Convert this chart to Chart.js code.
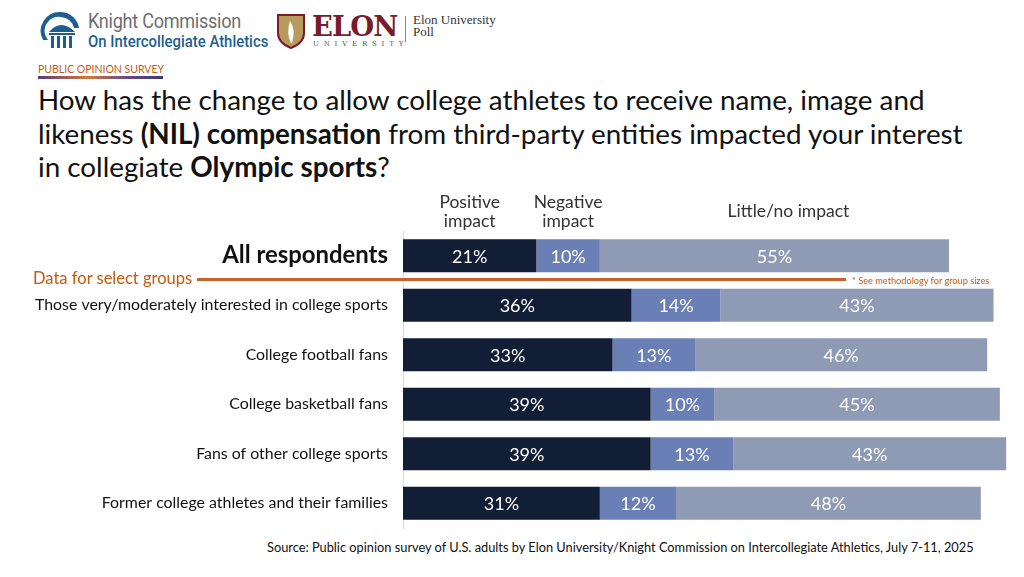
<!DOCTYPE html>
<html lang="en">
<head>
  <meta charset="UTF-8">
  <title>NIL and interest in Olympic sports</title>
  <script src="https://cdn.jsdelivr.net/npm/chart.js"></script>
  <style>
    * { margin:0; padding:0; box-sizing:border-box; }
    html,body { width:1024px; height:577px; overflow:hidden; background:#fff; font-family:'Lato',sans-serif; }
    #page { position:relative; width:1024px; height:577px; }
    .abs { position:absolute; }

    /* logos */
    #kc-name1 { left:88px; top:9px; font-family:'Roboto',sans-serif; font-size:21px; color:#6d6e70; letter-spacing:-0.3px; transform:scaleX(0.86); transform-origin:left; white-space:nowrap; }
    #kc-name2 { left:88px; top:32px; font-family:'Roboto',sans-serif; font-weight:500; font-size:16px; color:#1e5e8f; transform:scaleX(0.93); transform-origin:left; white-space:nowrap; }
    #elon-word { left:312px; top:10px; font-family:'DejaVu Serif',serif; font-weight:bold; font-size:28px; color:#7a1b2b; letter-spacing:-1px; transform:scaleX(0.98); transform-origin:left; }
    #elon-uni { left:313px; top:40px; font-family:'DejaVu Serif',serif; font-size:7px; letter-spacing:4.8px; color:#555; }
    #elon-bar { left:405px; top:16px; width:1px; height:26px; background:#888; }
    #elon-poll { left:413px; top:14px; font-family:'Liberation Serif',serif; font-size:13px; line-height:12px; color:#333; }

    #kicker { left:38px; top:63px; font-size:10.5px; color:#c55a11; }
    #kicker-bar { left:38px; top:76px; width:125px; height:3px; background:linear-gradient(90deg,#5a3a7a,#d27a3a 40%,#6a4a8a 70%,#3a3a7a); }
    #title { left:38px; top:83px; font-size:27.8px; line-height:33.5px; color:#111; white-space:nowrap; }

    #chart-wrap { left:0; top:190px; width:1024px; height:340px; }

    #divider-text { left:33px; top:268px; font-size:16.5px; color:#c55a11; }
    #divider { left:197px; top:278px; width:649px; height:3px; background:#c8612b; }
    #method { left:852px; top:275px; font-size:9.2px; color:#c55a11; }

    #source { left:267px; top:539px; font-size:12.8px; color:#111; white-space:nowrap; }
  </style>
</head>
<body>
  <div id="page">
    <!-- Knight Commission logo -->
    <svg class="abs" style="left:40px;top:10px" width="42" height="40" viewBox="0 0 42 40">
      <path d="M21 2 A19 19 0 0 0 3 30 L8 30 A14 14 0 0 1 21 7 A14 14 0 0 1 34 18 L39 18 A19 19 0 0 0 21 2 Z" fill="#1e5e8f"/>
      <path d="M9 22 Q21 8 35 22 Z" fill="#1e5e8f"/>
      <rect x="9" y="23" width="26" height="2" fill="#1e5e8f"/>
      <rect x="11" y="26" width="3" height="12" fill="#1e5e8f"/>
      <rect x="17" y="26" width="3" height="12" fill="#1e5e8f"/>
      <rect x="23" y="26" width="3" height="12" fill="#1e5e8f"/>
      <rect x="29" y="26" width="3" height="12" fill="#1e5e8f"/>
    </svg>
    <div id="kc-name1" class="abs">Knight Commission</div>
    <div id="kc-name2" class="abs">On Intercollegiate Athletics</div>

    <!-- Elon logo -->
    <svg class="abs" style="left:277px;top:13px" width="28" height="36" viewBox="0 0 28 36">
      <path d="M1 2 L27 2 L27 20 Q27 30 14 35 Q1 30 1 20 Z" fill="#b89a5e" stroke="#7a1b2b" stroke-width="2"/>
      <path d="M14 30 Q9 20 13 8 Q19 16 15 30 Z" fill="#fff"/>
    </svg>
    <div id="elon-word" class="abs">ELON</div>
    <div id="elon-uni" class="abs">UNIVERSITY</div>
    <div id="elon-bar" class="abs"></div>
    <div id="elon-poll" class="abs">Elon University<br>Poll</div>

    <div id="kicker" class="abs">PUBLIC OPINION SURVEY</div>
    <div id="kicker-bar" class="abs"></div>
    <div id="title" class="abs">How has the change to allow college athletes to receive name, image and<br>likeness <b>(NIL) compensation</b> from third-party entities impacted your interest<br>in collegiate <b>Olympic sports</b>?</div>

    <div id="chart-wrap" class="abs"><canvas id="chart" width="1024" height="340"></canvas></div>

    <div id="divider-text" class="abs">Data for select groups</div>
    <div id="divider" class="abs"></div>
    <div id="method" class="abs">* See methodology for group sizes</div>

    <div id="source" class="abs">Source: Public opinion survey of U.S. adults by Elon University/Knight Commission on Intercollegiate Athletics, July 7-11, 2025</div>
  </div>

  <script>
    // data
    const groups = [
      'All respondents',
      'Those very/moderately interested in college sports',
      'College football fans',
      'College basketball fans',
      'Fans of other college sports',
      'Former college athletes and their families'
    ];
    const seriesNames = ['Positive impact', 'Negative impact', 'Little/no impact'];
    const positive = [21, 36, 33, 39, 39, 31];
    const negative = [10, 14, 13, 10, 13, 12];
    const littleNo = [55, 43, 46, 45, 43, 48];
    const colors = ['#121e36', '#6a7fb5', '#8f9ab5'];

    // white % labels inside each segment
    const segmentLabels = {
      id: 'segmentLabels',
      afterDatasetsDraw(chart) {
        const ctx = chart.ctx;
        ctx.save();
        ctx.fillStyle = '#fff';
        ctx.font = '18px Lato';
        ctx.textAlign = 'center';
        ctx.textBaseline = 'middle';
        chart.data.datasets.forEach((ds, i) => {
          chart.getDatasetMeta(i).data.forEach((bar, j) => {
            ctx.fillText(ds.data[j] + '%', (bar.x + bar.base) / 2, bar.y + 1);
          });
        });
        ctx.restore();
      }
    };

    // column headers above the first bar
    const columnHeaders = {
      id: 'columnHeaders',
      afterDraw(chart) {
        const ctx = chart.ctx;
        const top = chart.chartArea.top;
        ctx.save();
        ctx.fillStyle = '#333';
        ctx.font = '17.5px Lato';
        ctx.textAlign = 'center';
        ctx.textBaseline = 'middle';
        chart.data.datasets.forEach((ds, i) => {
          const bar = chart.getDatasetMeta(i).data[0];
          const cx = (bar.x + bar.base) / 2;
          const words = ds.label.split(' ');
          if (i < 2) {
            ctx.fillText(words[0], cx, top - 29);
            ctx.fillText(words.slice(1).join(' '), cx, top - 10);
          } else {
            ctx.fillText(ds.label, cx + 14, top - 20);
          }
        });
        ctx.restore();
      }
    };

    new Chart(document.getElementById('chart'), {
      type: 'bar',
      data: {
        labels: groups,
        datasets: [
          { label: seriesNames[0], data: positive, backgroundColor: colors[0] },
          { label: seriesNames[1], data: negative, backgroundColor: colors[1] },
          { label: seriesNames[2], data: littleNo, backgroundColor: colors[2] }
        ]
      },
      options: {
        indexAxis: 'y',
        responsive: false,
        animation: false,
        devicePixelRatio: 1,
        layout: { padding: { top: 41, bottom: 2, right: 0, left: 0 } },
        datasets: { bar: { barPercentage: 0.67, categoryPercentage: 1 } },
        plugins: { legend: { display: false }, tooltip: { enabled: false } },
        scales: {
          x: { stacked: true, display: false, min: 0, max: 97.8 },
          y: {
            stacked: true,
            grid: { display: false },
            border: { display: true, color: '#d9d9d9', width: 1 },
            afterFit(scale) {
              scale.width = 403;
              // the big first label would otherwise reserve extra room at the bottom
              scale.paddingTop = 0;
              scale.paddingBottom = 0;
            },
            ticks: {
              padding: 7,
              color: '#111',
              font: c => c.index === 0
                ? { family: 'Lato', size: 23.9, weight: 'bold' }
                : { family: 'Lato', size: 15.9 }
            }
          }
        }
      },
      plugins: [segmentLabels, columnHeaders]
    });
  </script>
</body>
</html>
